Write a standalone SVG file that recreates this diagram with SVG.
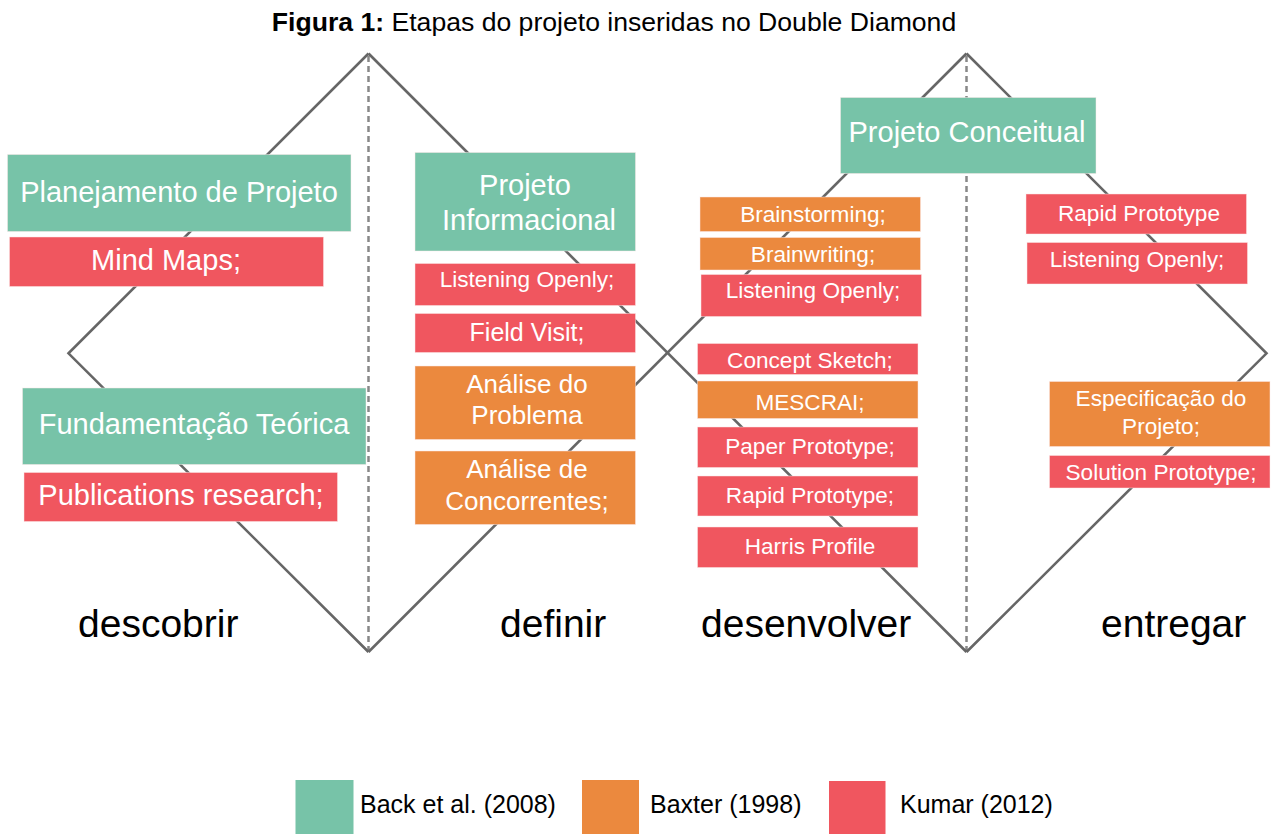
<svg xmlns="http://www.w3.org/2000/svg" width="1278" height="834" viewBox="0 0 1278 834">
<style>
text{font-family:"Liberation Sans",Arial,sans-serif}
.g{fill:#77C3A8}
.o{fill:#EB893E}
.r{fill:#F0565F}
.box{stroke:#fbe9e9;stroke-width:0.8;stroke-opacity:0.6}
.t{fill:#fff;text-anchor:middle}
.t29{font-size:29px}
.t26{font-size:26px}
.t25{font-size:25px}
.t23{font-size:22.6px}
.phase{font-size:39px;fill:#000}
.leg{font-size:25px;fill:#000}
.edge{stroke:#666;stroke-width:2.6;fill:none;stroke-linejoin:miter}
.dash{stroke:#888;stroke-width:2.5;stroke-dasharray:6,4;fill:none}
</style>
<rect width="1278" height="834" fill="#fff"/>
<text x="614" y="31" text-anchor="middle" font-size="26.6" fill="#000"><tspan font-weight="bold">Figura 1:</tspan> Etapas do projeto inseridas no Double Diamond</text>
<g id="connectors">
<line class="dash" x1="368.5" y1="56" x2="368.5" y2="651"/>
<line class="dash" x1="966.5" y1="56" x2="966.5" y2="651"/>
<polyline class="edge" points="368.5,53.5 68.5,353.3 368.5,652"/>
<line class="edge" x1="368.5" y1="53.5" x2="966.5" y2="652"/>
<line class="edge" x1="368.5" y1="652" x2="966.5" y2="53.5"/>
<polyline class="edge" points="966.5,53.5 1266.5,353.3 966.5,652"/>
</g>
<g id="n-planejamento"><rect class="g box" x="7.5" y="154.5" width="343.5" height="77"/><text class="t t29" x="179" y="202">Planejamento de Projeto</text></g>
<g id="n-mindmaps"><rect class="r box" x="9.5" y="237" width="314" height="49.5"/><text class="t t29" x="166" y="270">Mind Maps;</text></g>
<g id="n-fundamentacao"><rect class="g box" x="22.5" y="388" width="343.5" height="76.5"/><text class="t t29" x="194" y="433.5">Fundamentação Teórica</text></g>
<g id="n-publications"><rect class="r box" x="24" y="472.5" width="313.5" height="49"/><text class="t t29" x="181" y="504.5">Publications research;</text></g>
<g id="n-informacional"><rect class="g box" x="415" y="152.5" width="220.5" height="98.5"/><text class="t t29" x="525" y="195">Projeto</text><text class="t t29" x="529" y="230">Informacional</text></g>
<g id="n-listening1"><rect class="r box" x="415" y="263.5" width="220.5" height="42"/><text class="t t23" x="527" y="287">Listening Openly;</text></g>
<g id="n-fieldvisit"><rect class="r box" x="415" y="313.5" width="220.5" height="39"/><text class="t t25" x="527" y="340.5">Field Visit;</text></g>
<g id="n-analise-problema"><rect class="o box" x="415" y="366" width="220.5" height="73.5"/><text class="t t26" x="527" y="392.5">Análise do</text><text class="t t26" x="527" y="423.5">Problema</text></g>
<g id="n-analise-concorrentes"><rect class="o box" x="415" y="451" width="220.5" height="73.5"/><text class="t t26" x="527" y="477.5">Análise de</text><text class="t t26" x="527" y="510">Concorrentes;</text></g>
<g id="n-conceitual"><rect class="g box" x="840.5" y="97.5" width="255.5" height="76"/><text class="t t29" x="967" y="142">Projeto Conceitual</text></g>
<g id="n-brainstorming"><rect class="o box" x="700" y="197" width="220.5" height="34.5"/><text class="t t23" x="813" y="221.5">Brainstorming;</text></g>
<g id="n-brainwriting"><rect class="o box" x="700" y="237.5" width="220.5" height="32.5"/><text class="t t23" x="813" y="261.5">Brainwriting;</text></g>
<g id="n-listening2"><rect class="r box" x="701" y="274.5" width="220.5" height="42"/><text class="t t23" x="813" y="298">Listening Openly;</text></g>
<g id="n-concept"><rect class="r box" x="697.5" y="343.5" width="220.5" height="31"/><text class="t t23" x="810" y="367.5">Concept Sketch;</text></g>
<g id="n-mescrai"><rect class="o box" x="697.5" y="381" width="220.5" height="37.5"/><text class="t t23" x="810" y="409.5">MESCRAI;</text></g>
<g id="n-paper"><rect class="r box" x="697.5" y="427" width="220.5" height="40.5"/><text class="t t23" x="810" y="454">Paper Prototype;</text></g>
<g id="n-rapid1"><rect class="r box" x="697.5" y="476" width="220.5" height="40"/><text class="t t23" x="810" y="502.5">Rapid Prototype;</text></g>
<g id="n-harris"><rect class="r box" x="697.5" y="527" width="220.5" height="40.5"/><text class="t t23" x="810" y="553.5">Harris Profile</text></g>
<g id="n-rapid2"><rect class="r box" x="1026" y="194" width="220.5" height="40"/><text class="t t23" x="1139" y="221">Rapid Prototype</text></g>
<g id="n-listening3"><rect class="r box" x="1027" y="242.5" width="220.5" height="41.5"/><text class="t t23" x="1137" y="267">Listening Openly;</text></g>
<g id="n-especificacao"><rect class="o box" x="1049.5" y="381.5" width="220.5" height="65"/><text class="t t23" x="1161" y="406">Especificação do</text><text class="t t23" x="1161" y="433.5">Projeto;</text></g>
<g id="n-solution"><rect class="r box" x="1049.5" y="455.5" width="220.5" height="32.5"/><text class="t t23" x="1161" y="480">Solution Prototype;</text></g>
<g id="phases">
<text class="phase" x="78" y="637">descobrir</text>
<text class="phase" x="500" y="637">definir</text>
<text class="phase" x="701" y="637">desenvolver</text>
<text class="phase" x="1101" y="637">entregar</text>
</g>
<g id="legend">
<rect class="g" x="295.5" y="780" width="58" height="54"/><text class="leg" x="360" y="813">Back et al. (2008)</text>
<rect class="o" x="582" y="780" width="57" height="54"/><text class="leg" x="650" y="813">Baxter (1998)</text>
<rect class="r" x="829" y="781" width="56.5" height="53"/><text class="leg" x="900" y="813">Kumar (2012)</text>
</g>
</svg>
